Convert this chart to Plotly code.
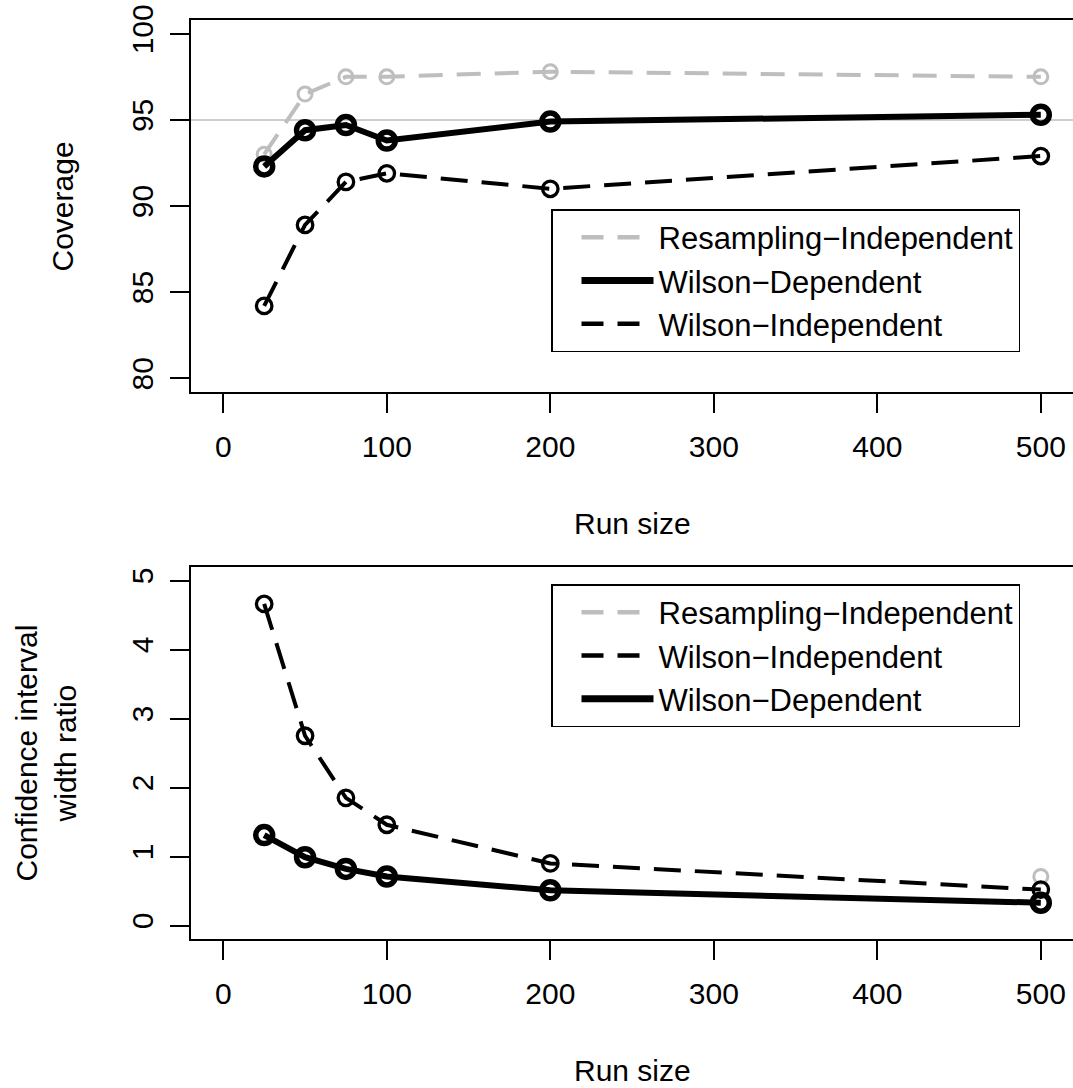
import plotly.graph_objects as go

# ---- data ----
run_sizes = [25, 50, 75, 100, 200, 500]
cov_resampling_ind = [93.0, 96.5, 97.5, 97.5, 97.8, 97.5]
cov_wilson_dep = [92.3, 94.4, 94.7, 93.8, 94.9, 95.3]
cov_wilson_ind = [84.2, 88.9, 91.4, 91.9, 91.0, 92.9]
nominal_coverage = 95

ratio_resampling_ind = [None, None, None, None, None, 0.71]
ratio_wilson_ind = [4.66, 2.75, 1.85, 1.46, 0.90, 0.52]
ratio_wilson_dep = [1.31, 0.99, 0.82, 0.71, 0.51, 0.33]

x_ticks = [0, 100, 200, 300, 400, 500]
cov_ticks = [80, 85, 90, 95, 100]
ratio_ticks = [0, 1, 2, 3, 4, 5]

NAME_RI = "Resampling\u2212Independent"
NAME_WD = "Wilson\u2212Dependent"
NAME_WI = "Wilson\u2212Independent"

# ---- styles ----
W, H = 1073, 1088
FONT = "Liberation Sans, Arial, Helvetica, sans-serif"
FS = 30
GRAY = "#BEBEBE"
styles = {
    NAME_RI: dict(line=dict(color=GRAY, width=4, dash="24px,14px"),
                  marker=dict(symbol="circle-open", size=14, color=GRAY, line=dict(width=3, color=GRAY))),
    NAME_WD: dict(line=dict(color="black", width=6),
                  marker=dict(symbol="circle-open", size=17, color="black", line=dict(width=5.5, color="black"))),
    NAME_WI: dict(line=dict(color="black", width=4, dash="27px,14px"),
                  marker=dict(symbol="circle-open", size=15.5, color="black", line=dict(width=3.3, color="black"))),
}
legend_line = {
    NAME_RI: dict(color=GRAY, width=4.5, dash="22px,14px"),
    NAME_WD: dict(color="black", width=7),
    NAME_WI: dict(color="black", width=4.5, dash="22px,14px"),
}

fig = go.Figure()

def add_series(name, xs, ys, xa, ya):
    st = styles[name]
    fig.add_trace(go.Scatter(x=xs, y=ys, mode="lines+markers", name=name,
                             line=st["line"], marker=st["marker"],
                             showlegend=False, xaxis=xa, yaxis=ya, connectgaps=False))

def add_legend_item(name, legend, xa, ya):
    fig.add_trace(go.Scatter(x=[None], y=[None], mode="lines", name=name,
                             line=legend_line[name], showlegend=True, legend=legend,
                             xaxis=xa, yaxis=ya))

# top panel
add_series(NAME_RI, run_sizes, cov_resampling_ind, "x", "y")
add_series(NAME_WD, run_sizes, cov_wilson_dep, "x", "y")
add_series(NAME_WI, run_sizes, cov_wilson_ind, "x", "y")
for n in [NAME_RI, NAME_WD, NAME_WI]:
    add_legend_item(n, "legend", "x", "y")

# bottom panel
add_series(NAME_RI, run_sizes, ratio_resampling_ind, "x2", "y2")
add_series(NAME_WI, run_sizes, ratio_wilson_ind, "x2", "y2")
add_series(NAME_WD, run_sizes, ratio_wilson_dep, "x2", "y2")
for n in [NAME_RI, NAME_WI, NAME_WD]:
    add_legend_item(n, "legend2", "x2", "y2")

# geometry (pixels -> paper)
left_px, right_px = 190.6, 1073.0
px_per_unit = 817.5 / 500.0
x_lo = -20.0
x_hi = x_lo + (right_px - left_px) / px_per_unit

def py(p):
    return 1 - p / H

xaxis_common = dict(range=[x_lo, x_hi], domain=[left_px / W, right_px / W],
                    showline=True, linecolor="black", linewidth=1.5, mirror=True,
                    ticks="outside", ticklen=19, tickwidth=1.5, tickcolor="black",
                    tickvals=x_ticks, showgrid=False, zeroline=False, automargin=False,
                    tickfont=dict(family=FONT, size=FS, color="black"),
                    ticklabelstandoff=8)
yaxis_common = dict(showline=True, linecolor="black", linewidth=1.5,
                    ticks="outside", ticklen=19, tickwidth=1.5, tickcolor="black",
                    showgrid=False, zeroline=False, tickangle=-90, automargin=False,
                    tickfont=dict(family=FONT, size=FS, color="black"),
                    ticklabelstandoff=5)

legend_common = dict(x=551 / W, xanchor="left", yanchor="top",
                     bgcolor="white", bordercolor="black", borderwidth=1.5,
                     font=dict(family=FONT, size=31, color="black"),
                     itemwidth=72, indentation=24, traceorder="normal")

fig.update_layout(
    width=W, height=H,
    margin=dict(l=0, r=0, t=0, b=0, autoexpand=False),
    paper_bgcolor="white", plot_bgcolor="white",
    font=dict(family=FONT, size=FS, color="black"),
    xaxis=dict(**xaxis_common, anchor="y"),
    yaxis=dict(**yaxis_common, range=[79.2, 100.8], tickvals=cov_ticks,
               domain=[py(392), py(20)], anchor="x"),
    xaxis2=dict(**xaxis_common, anchor="y2"),
    yaxis2=dict(**yaxis_common, range=[-0.2, 5.2], tickvals=ratio_ticks,
                domain=[py(939.3), py(566.7)], anchor="x2"),
    legend=dict(**legend_common, y=py(209)),
    legend2=dict(**legend_common, y=py(584)),
    shapes=[dict(type="line", xref="x domain", yref="y", x0=0, x1=1,
                 y0=nominal_coverage, y1=nominal_coverage,
                 line=dict(color=GRAY, width=1.5), layer="below")],
    annotations=[
        dict(text="Coverage", xref="paper", yref="paper", x=62 / W, y=py(206.5),
             xanchor="center", yanchor="middle", textangle=-90, showarrow=False,
             font=dict(family=FONT, size=FS, color="black")),
        dict(text="Run size", xref="paper", yref="paper", x=632.5 / W, y=py(523),
             xanchor="center", yanchor="middle", showarrow=False,
             font=dict(family=FONT, size=FS, color="black")),
        dict(text="Confidence interval<br>width ratio", xref="paper", yref="paper",
             x=45.5 / W, y=py(753), xanchor="center", yanchor="middle", textangle=-90,
             showarrow=False, font=dict(family=FONT, size=FS, color="black")),
        dict(text="Run size", xref="paper", yref="paper", x=632.5 / W, y=py(1070),
             xanchor="center", yanchor="middle", showarrow=False,
             font=dict(family=FONT, size=FS, color="black")),
    ],
)

fig.write_html("out.html")
